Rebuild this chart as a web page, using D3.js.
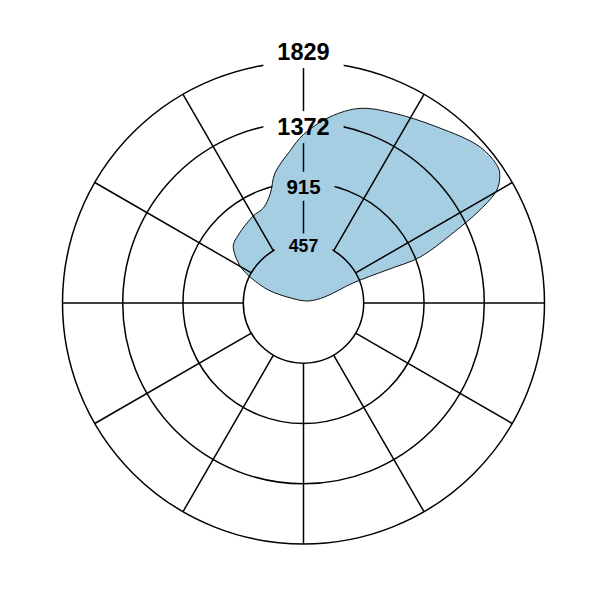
<!DOCTYPE html>
<html>
<head>
<meta charset="utf-8">
<script src="https://cdn.jsdelivr.net/npm/d3@7"></script>
<style>
  body { margin: 0; background: #fff; }
  .label { font-family: "Liberation Sans", Arial, sans-serif; font-weight: bold; }
</style>
</head>
<body>
<div id="chart"></div>
<script>
// boundary of the shaded region (clockwise)
var aspects    = [67, -68, -69.7, -64.5, -60.7, -55, -50.4, -43.8, -30, -23, -17, -12.4, -5.3, 0, 8.1, 16.2, 25.2, 37.2, 48.5, 55, 57, 59.7, 62.2, 64.9, 68.5, 68.4, 68, 74];
var elevations = [39, 95, 285, 436, 538, 634, 691, 715, 763, 782, 865, 1009, 1154, 1279, 1427, 1538, 1594, 1677, 1788, 1801, 1776, 1700, 1514, 1252, 951, 682, 405, 167];

var rTicks = [457, 915, 1372, 1829];
var spokeAngles = [0, 30, 60, 90, 120, 150, 180, 210, 240, 270, 300, 330];

function init(){
    var w = 601, h = 601;
    var cx = 303.5, cy = 303;
    var outerRadius = 241;

    var dataset = aspects.map(function(a, i){ return {aspect: a, elev: elevations[i]}; });

    var xScale = d3.scaleLinear().domain([0, 360]).range([0, 2 * Math.PI]);
    var yScale = d3.scaleLinear().domain([0, d3.max(rTicks)]).range([0, outerRadius]);

    var svg = d3.select("#chart")
                .append("svg")
                .attr("width", w)
                .attr("height", h);

    var defs = svg.append("defs");
    var mask = defs.append("mask")
                .attr("id", "gridMask")
                .attr("maskUnits", "userSpaceOnUse")
                .attr("x", -w).attr("y", -h)
                .attr("width", 2 * w).attr("height", 2 * h);
    mask.append("rect")
        .attr("x", -w).attr("y", -h)
        .attr("width", 2 * w).attr("height", 2 * h)
        .attr("fill", "white");

    var g = svg.append("g")
                .attr("transform", "translate(" + cx + "," + cy + ")");

    var line = d3.lineRadial()
                .angle(function(d){ return xScale(d.aspect); })
                .radius(function(d){ return yScale(d.elev); })
                .curve(d3.curveCatmullRomClosed.alpha(0.5));

    g.append("path")
        .datum(dataset)
        .attr("fill", "#a6cee3")
        .attr("stroke", "#111")
        .attr("stroke-width", 1)
        .attr("d", line);

    var grid = g.append("g")
                .attr("mask", "url(#gridMask)")
                .attr("fill", "none")
                .attr("stroke", "#000")
                .attr("stroke-width", 1.5);

    grid.selectAll("circle")
        .data(rTicks)
        .join("circle")
        .attr("r", function(d){ return yScale(d); });

    grid.selectAll("line")
        .data(spokeAngles)
        .join("line")
        .attr("x1", function(d){ return yScale(rTicks[0]) * Math.sin(xScale(d)); })
        .attr("y1", function(d){ return -yScale(rTicks[0]) * Math.cos(xScale(d)); })
        .attr("x2", function(d){ return yScale(d3.max(rTicks)) * Math.sin(xScale(d)); })
        .attr("y2", function(d){ return -yScale(d3.max(rTicks)) * Math.cos(xScale(d)); });

    var fontSizes = [17.6, 20.5, 23.5, 23.5];
    var last = rTicks.length - 1;

    var labels = g.selectAll(".label")
        .data(rTicks)
        .join("text")
        .attr("class", "label")
        .attr("text-anchor", "middle")
        .attr("x", 0)
        .attr("y", function(d){ return -yScale(d); })
        .attr("dy", function(d, i){ return i === last ? "-2px" : "0.55em"; })
        .style("font-size", function(d, i){ return fontSizes[i] + "px"; })
        .text(function(d){ return d; });

    // cut the grid lines around each label (mask lives in the g's user space)
    labels.each(function(){
        var b = this.getBBox();
        mask.append("rect")
            .attr("x", b.x - 14)
            .attr("y", b.y - 3)
            .attr("width", b.width + 28)
            .attr("height", b.height + 6)
            .attr("fill", "black");
    });
}
window.onload = init;
</script>
</body>
</html>
